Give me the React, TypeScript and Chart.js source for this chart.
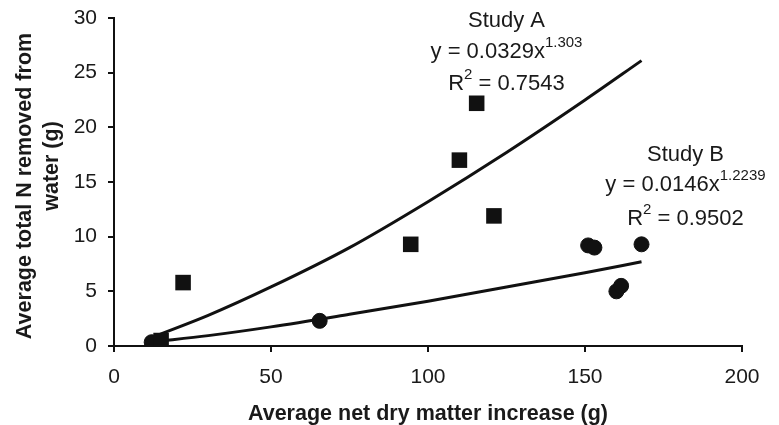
import React, { useEffect, useRef } from "react";
import { Chart, registerables } from "chart.js";

Chart.register(...registerables);

const studyAX = [15, 22, 94.5, 110, 115.5, 121];
const studyAY = [0.5, 5.8, 9.3, 17.0, 22.2, 11.9];
const studyBX = [12, 65.5, 151, 153, 160, 161.5, 168];
const studyBY = [0.35, 2.3, 9.2, 9.0, 5.0, 5.5, 9.3];

const trendAX = [14, 30, 50, 75, 100, 125, 150, 168];
const trendAY = [1.0, 2.8, 5.4, 9.0, 13.2, 17.7, 22.5, 26.1];
const trendBX = [13, 30, 50, 75, 100, 125, 150, 168];
const trendBY = [0.4, 0.95, 1.75, 2.9, 4.1, 5.4, 6.7, 7.7];

const xTitle = "Average net dry matter increase (g)";
const yTitleLines = ["Average total N removed from", "water (g)"];

type Ann = { x: number; y: number; base: string; sup: string; rest: string };
const annotations: Ann[] = [
  { x: 125, y: 29.7, base: "Study A", sup: "", rest: "" },
  { x: 125, y: 26.9, base: "y = 0.0329x", sup: "1.303", rest: "" },
  { x: 125, y: 24.0, base: "R", sup: "2", rest: " = 0.7543" },
  { x: 182, y: 17.5, base: "Study B", sup: "", rest: "" },
  { x: 182, y: 14.7, base: "y = 0.0146x", sup: "1.2239", rest: "" },
  { x: 182, y: 11.6, base: "R", sup: "2", rest: " = 0.9502" },
];

const FONT = "'Liberation Sans', Arial, sans-serif";
const TEXT = "#1a1a1a";

const zip = (xs: number[], ys: number[]) => xs.map((x, i) => ({ x, y: ys[i] }));

const textPlugin = {
  id: "textPlugin",
  afterDraw(chart: any) {
    const ctx = chart.ctx as CanvasRenderingContext2D;
    const xs = chart.scales.x;
    const ys = chart.scales.y;
    const area = chart.chartArea;
    ctx.save();
    ctx.fillStyle = TEXT;
    ctx.textBaseline = "middle";
    for (const a of annotations) {
      const px = xs.getPixelForValue(a.x);
      const py = ys.getPixelForValue(a.y);
      ctx.font = `22px ${FONT}`;
      const wb = ctx.measureText(a.base).width;
      const wr = ctx.measureText(a.rest).width;
      ctx.font = `15px ${FONT}`;
      const ws = a.sup ? ctx.measureText(a.sup).width : 0;
      const total = wb + ws + wr;
      let cx = px - total / 2;
      ctx.textAlign = "left";
      ctx.font = `22px ${FONT}`;
      ctx.fillText(a.base, cx, py);
      cx += wb;
      if (a.sup) {
        ctx.font = `15px ${FONT}`;
        ctx.fillText(a.sup, cx, py - 9);
        cx += ws;
      }
      if (a.rest) {
        ctx.font = `22px ${FONT}`;
        ctx.fillText(a.rest, cx, py);
      }
    }
    ctx.font = `bold 21.5px ${FONT}`;
    ctx.textAlign = "center";
    ctx.fillText(xTitle, (area.left + area.right) / 2, 414);
    ctx.rotate(-Math.PI / 2);
    ctx.fillText(yTitleLines[0], -186, 25);
    ctx.fillText(yTitleLines[1], -166, 52);
    ctx.restore();
  },
};

export default function App() {
  const ref = useRef<HTMLCanvasElement | null>(null);
  useEffect(() => {
    document.body.style.margin = "0";
    if (!ref.current) return;
    const chart = new Chart(ref.current, {
      type: "scatter",
      data: {
        datasets: [
          {
            label: "Study A",
            data: zip(studyAX, studyAY),
            pointStyle: "rect",
            pointRadius: 11,
            backgroundColor: "#111",
            borderColor: "#111",
            borderWidth: 0,
            order: 1,
          },
          {
            label: "Study B",
            data: zip(studyBX, studyBY),
            pointStyle: "circle",
            pointRadius: 7.5,
            backgroundColor: "#111",
            borderColor: "#111",
            borderWidth: 1,
            order: 1,
          },
          {
            label: "Trend A",
            type: "line",
            data: zip(trendAX, trendAY),
            borderColor: "#111",
            borderWidth: 3,
            pointRadius: 0,
            cubicInterpolationMode: "monotone",
            fill: false,
            order: 2,
          },
          {
            label: "Trend B",
            type: "line",
            data: zip(trendBX, trendBY),
            borderColor: "#111",
            borderWidth: 3,
            pointRadius: 0,
            cubicInterpolationMode: "monotone",
            fill: false,
            order: 2,
          },
        ] as any,
      },
      options: {
        animation: false,
        responsive: false,
        maintainAspectRatio: false,
        layout: { padding: { left: 0, top: 18, right: 37, bottom: 0 } },
        plugins: { legend: { display: false }, tooltip: { enabled: false } },
        scales: {
          x: {
            type: "linear",
            min: 0,
            max: 200,
            ticks: { stepSize: 50, color: TEXT, font: { family: FONT, size: 21 }, padding: 13, maxRotation: 0 },
            grid: { display: true, drawOnChartArea: false, drawTicks: true, tickLength: 6, color: "#111", lineWidth: 2 },
            border: { display: true, color: "#111", width: 2 },
            afterFit: (s: any) => { s.height = 79; s.paddingLeft = 0; s.paddingRight = 0; },
          },
          y: {
            type: "linear",
            min: 0,
            max: 30,
            ticks: { stepSize: 5, color: TEXT, font: { family: FONT, size: 21 }, padding: 11 },
            grid: { display: true, drawOnChartArea: false, drawTicks: true, tickLength: 6, color: "#111", lineWidth: 2 },
            border: { display: true, color: "#111", width: 2 },
            afterFit: (s: any) => { s.width = 114; s.paddingTop = 0; s.paddingBottom = 0; },
          },
        },
      },
      plugins: [textPlugin],
    });
    return () => chart.destroy();
  }, []);
  return (
    <div style={{ position: "absolute", left: 0, top: 0, width: 779, height: 425, background: "#fff" }}>
      <canvas ref={ref} width={779} height={425} style={{ width: 779, height: 425 }} />
    </div>
  );
}
